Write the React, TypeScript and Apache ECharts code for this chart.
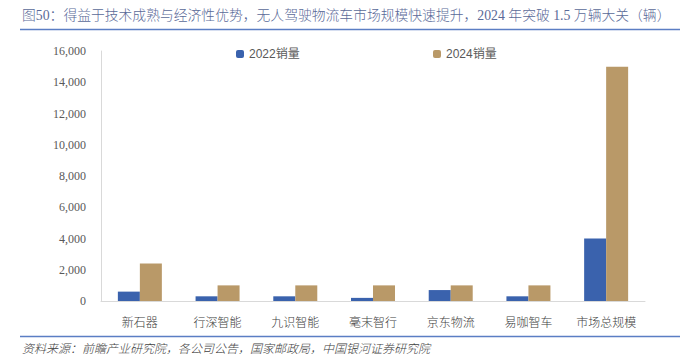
import React, { useEffect, useRef } from "react";
import * as echarts from "echarts";

const categories = ["新石器", "行深智能", "九识智能", "毫末智行", "京东物流", "易咖智车", "市场总规模"];
const sales2022 = [600, 300, 300, 200, 700, 300, 4000];
const sales2024 = [2400, 1000, 1000, 1000, 1000, 1000, 15000];
const seriesNames = ["2022销量", "2024销量"];
const titleText = "图50：得益于技术成熟与经济性优势，无人驾驶物流车市场规模快速提升，2024 年突破 1.5 万辆大关（辆）";
const sourceText = "资料来源：前瞻产业研究院，各公司公告，国家邮政局，中国银河证券研究院";

const CJK = '"Liberation Serif", "Noto Sans CJK SC", serif';

export default function App() {
  const ref = useRef<HTMLDivElement>(null);
  useEffect(() => {
    const chart = echarts.init(ref.current!, null, { renderer: "svg" });
    chart.setOption({
      animation: false,
      grid: { left: 101, right: 45, top: 51, bottom: 54 },
      legend: [
        {
          data: [seriesNames[0]],
          left: 231,
          top: 43,
          itemWidth: 8,
          itemHeight: 8,
          itemGap: 4,
          textStyle: { fontSize: 12, color: "#595959", fontFamily: '"Liberation Sans", "Noto Sans CJK SC", sans-serif' },
        },
        {
          data: [seriesNames[1]],
          left: 428,
          top: 43,
          itemWidth: 8,
          itemHeight: 8,
          textStyle: { fontSize: 12, color: "#595959", fontFamily: '"Liberation Sans", "Noto Sans CJK SC", sans-serif' },
        },
      ],
      xAxis: {
        type: "category",
        data: categories,
        axisLine: { lineStyle: { color: "#d9d9d9" } },
        axisTick: { show: false },
        axisLabel: {
          interval: 0,
          margin: 14,
          fontSize: 12,
          color: "#404040",
          fontWeight: 300,
          fontFamily: '"Noto Sans CJK SC", sans-serif',
        },
      },
      yAxis: {
        type: "value",
        min: 0,
        max: 16000,
        interval: 2000,
        axisLine: { show: true, lineStyle: { color: "#d9d9d9" } },
        axisTick: { show: false },
        splitLine: { show: false },
        axisLabel: {
          margin: 15,
          fontSize: 12,
          color: "#595959",
          fontFamily: '"Liberation Serif", serif',
          formatter: (v: number) => v.toLocaleString("en-US"),
        },
      },
      series: [
        {
          name: seriesNames[0],
          type: "bar",
          data: sales2022,
          barWidth: 22,
          barGap: "0%",
          itemStyle: { color: "#3a62ad" },
        },
        {
          name: seriesNames[1],
          type: "bar",
          data: sales2024,
          barWidth: 22,
          itemStyle: { color: "#b99968" },
        },
      ],
      graphic: [
        {
          type: "text",
          left: 22,
          top: 9,
          style: { text: titleText, fontSize: 13.8, fontWeight: 300, fill: "#5a6a98", fontFamily: CJK },
        },
        {
          type: "line",
          shape: { x1: 20, y1: 29.5, x2: 680, y2: 29.5 },
          style: { stroke: "#5b7ec4", lineWidth: 1.5 },
        },
        {
          type: "line",
          shape: { x1: 20, y1: 336.5, x2: 680, y2: 336.5 },
          style: { stroke: "#5b7ec4", lineWidth: 1.5 },
        },
        {
          type: "text",
          left: 22,
          top: 341,
          style: {
            text: sourceText,
            fontSize: 12,
            fontStyle: "italic",
            fontWeight: 300,
            fill: "#404040",
            fontFamily: '"Noto Sans CJK SC", sans-serif',
          },
        },
      ],
    });
    return () => chart.dispose();
  }, []);
  return <div ref={ref} style={{ width: 690, height: 355, position: "absolute", left: 0, top: 0, background: "#fff" }} />;
}
